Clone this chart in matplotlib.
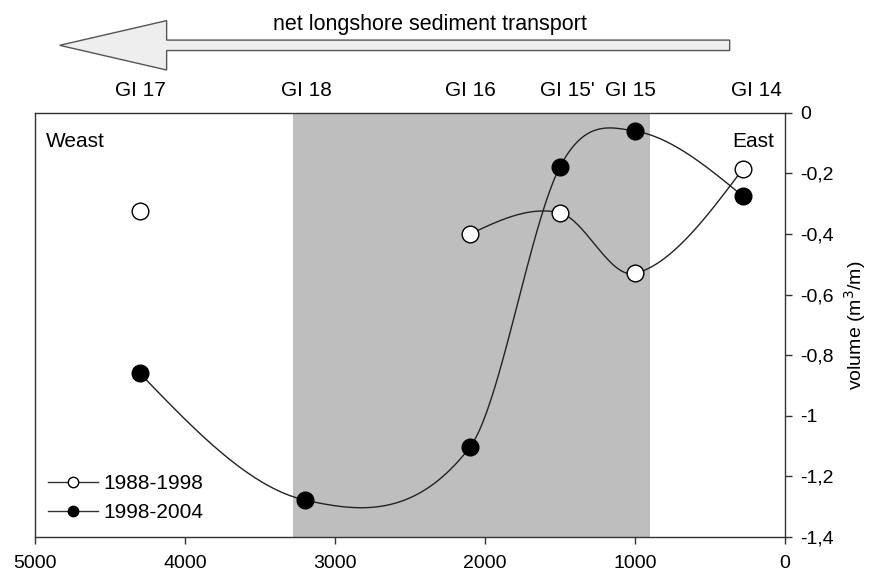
import numpy as np
import matplotlib.pyplot as plt
from matplotlib.patches import FancyArrow
from matplotlib.ticker import FuncFormatter

plt.rcParams['font.family'] = ['Liberation Sans', 'DejaVu Sans']

# distance along shore (m) and volume change (m3/m)
x_8898 = [4300, 2100, 1500, 1000, 280]
v_8898 = [-0.325, -0.40, -0.33, -0.53, -0.185]
x_9804 = [4300, 3200, 2100, 1500, 1000, 280]
v_9804 = [-0.86, -1.278, -1.103, -0.178, -0.06, -0.275]

groin_names = ['GI 17', 'GI 18', 'GI 16', "GI 15'", 'GI 15', 'GI 14']
groin_pos = [4300, 3190, 2100, 1450, 1030, 190]

shade_from, shade_to = 3280, 900


def smooth_curve(x, y, n=300):
    # cubic hermite through the points, centred slopes (catmull-rom like)
    x = np.asarray(x, float)
    y = np.asarray(y, float)
    order = np.argsort(x)
    x, y = x[order], y[order]
    d = np.diff(y) / np.diff(x)
    m = np.zeros_like(x)
    m[1:-1] = (y[2:] - y[:-2]) / (x[2:] - x[:-2])
    m[0] = (3 * d[0] - m[1]) / 2
    m[-1] = (3 * d[-1] - m[-2]) / 2
    xs = np.linspace(x[0], x[-1], n)
    idx = np.clip(np.searchsorted(x, xs) - 1, 0, len(x) - 2)
    h = x[idx + 1] - x[idx]
    t = (xs - x[idx]) / h
    h00 = 2 * t ** 3 - 3 * t ** 2 + 1
    h10 = t ** 3 - 2 * t ** 2 + t
    h01 = -2 * t ** 3 + 3 * t ** 2
    h11 = t ** 3 - t ** 2
    ys = h00 * y[idx] + h10 * h * m[idx] + h01 * y[idx + 1] + h11 * h * m[idx + 1]
    return xs, ys


fig = plt.figure(figsize=(8.77, 5.81), dpi=100)
ax = fig.add_axes([0.040, 0.0757, 0.855, 0.730])

ax.axvspan(shade_to, shade_from, color='#bebebe', lw=0, zorder=0)

xs, ys = smooth_curve(x_8898[1:], v_8898[1:])
ax.plot(xs, ys, color='#222222', lw=1, zorder=2)
xs, ys = smooth_curve(x_9804, v_9804)
ax.plot(xs, ys, color='#222222', lw=1, zorder=2)

ax.plot(x_8898, v_8898, 'o', ms=12, mfc='white', mec='black', mew=1, zorder=3)
ax.plot(x_9804, v_9804, 'o', ms=12, mfc='black', mec='black', zorder=3)

# legend drawn as proxies
ax.plot([], [], '-o', color='#333333', lw=1, ms=7.5, mfc='white', mec='black', label='1988-1998')
ax.plot([], [], '-o', color='#333333', lw=1, ms=7.5, mfc='black', mec='black', label='1998-2004')
ax.legend(loc='lower left', frameon=False, fontsize=15, handlelength=2.4,
          handletextpad=0.3, borderaxespad=0.2, labelspacing=0.5,
          bbox_to_anchor=(0.0, 0.005))

ax.set_xlim(5000, 0)
ax.set_ylim(-1.4, 0)
ax.set_xticks(np.arange(0, 5001, 1000))
ax.set_yticks(np.arange(-1.4, 0.01, 0.2))

ax.yaxis.tick_right()
ax.yaxis.set_label_position('right')
ax.yaxis.set_major_formatter(FuncFormatter(
    lambda v, p: '0' if abs(v) < 1e-9 else ('%g' % round(v, 1)).replace('.', ',')))
ax.tick_params(labelsize=14, direction='out', length=5, width=1, colors='#333333')
ax.tick_params(axis='y', pad=6)
ax.tick_params(axis='x', pad=8)
for lab in ax.get_xticklabels() + ax.get_yticklabels():
    lab.set_color('black')
ax.set_ylabel('volume (m$^3$/m)', fontsize=14, labelpad=6)
for s in ax.spines.values():
    s.set_color('#333333')
    s.set_linewidth(1)

ax.text(0.014, 0.955, 'Weast', transform=ax.transAxes, fontsize=15, va='top', ha='left')
ax.text(0.985, 0.955, 'East', transform=ax.transAxes, fontsize=15, va='top', ha='right')

for name, pos in zip(groin_names, groin_pos):
    ax.text(pos, 1.03, name, transform=ax.get_xaxis_transform(),
            fontsize=15, ha='center', va='bottom')

# sediment transport arrow
arr = FancyArrow(0.832, 0.922, -0.764, 0, width=0.018, head_width=0.085,
                 head_length=0.122, length_includes_head=True,
                 transform=fig.transFigure, facecolor='#eeeeee',
                 edgecolor='#555555', lw=1)
fig.patches.append(arr)
fig.text(0.49, 0.957, 'net longshore sediment transport', fontsize=15.5,
         ha='center', va='center')

fig.savefig('out.png', dpi=100)
